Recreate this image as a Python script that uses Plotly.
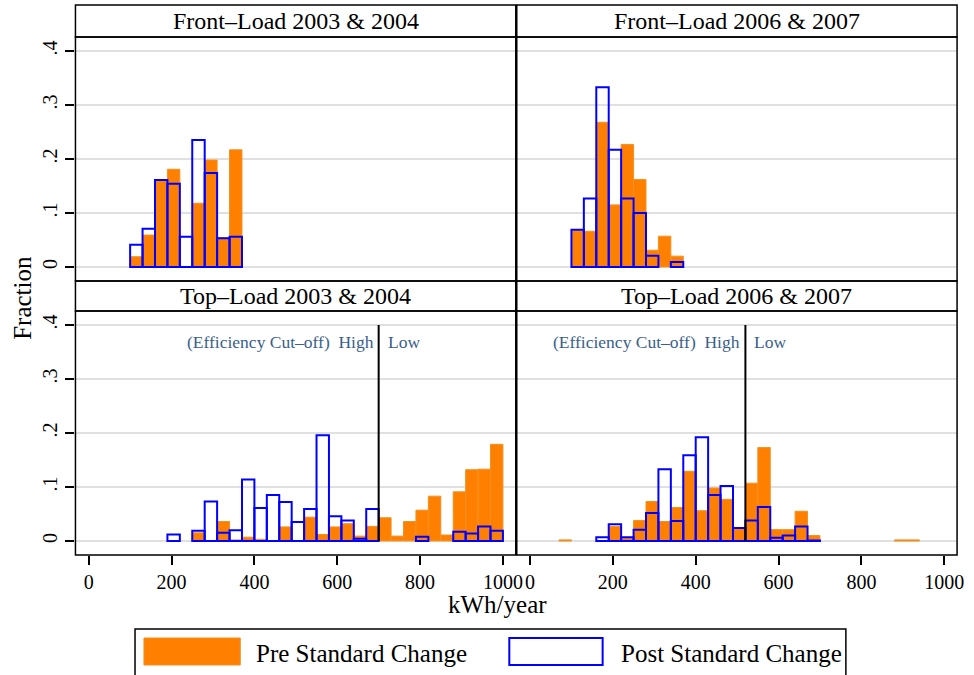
import plotly.graph_objects as go

# ---------------- data ----------------
BIN_W = 30
panel_titles = ["Front\u2013Load 2003 & 2004", "Front\u2013Load 2006 & 2007",
                "Top\u2013Load 2003 & 2004", "Top\u2013Load 2006 & 2007"]

fl0304_left = [100, 130, 160, 190, 220, 250, 280, 310, 340]
fl0304_pre = [0.019, 0.059, 0.160, 0.181, 0.0, 0.118, 0.198, 0.054, 0.217]
fl0304_post = [0.041, 0.071, 0.161, 0.154, 0.056, 0.235, 0.174, 0.053, 0.056]

fl0607_left = [100, 130, 160, 190, 220, 250, 280, 310, 340]
fl0607_pre = [0.067, 0.066, 0.268, 0.115, 0.227, 0.162, 0.031, 0.057, 0.020]
fl0607_post = [0.069, 0.127, 0.333, 0.217, 0.127, 0.100, 0.021, 0.0, 0.009]

tl0304_left = [190, 220, 250, 280, 310, 340, 370, 400, 430, 460, 490, 520, 550, 580,
               610, 640, 670, 700, 730, 760, 790, 820, 850, 880, 910, 940, 970]
tl0304_pre = [0.0, 0.0, 0.015, 0.0, 0.036, 0.002, 0.007, 0.003, 0.0, 0.026, 0.0, 0.044,
              0.012, 0.026, 0.032, 0.009, 0.027, 0.043, 0.009, 0.036, 0.057, 0.083,
              0.011, 0.091, 0.132, 0.133, 0.179]
tl0304_post = [0.012, 0.0, 0.019, 0.073, 0.015, 0.020, 0.114, 0.061, 0.085, 0.072, 0.035,
               0.059, 0.196, 0.046, 0.038, 0.004, 0.059, 0.0, 0.0, 0.0, 0.008, 0.0,
               0.0, 0.017, 0.014, 0.027, 0.019]

tl0607_left = [70, 100, 130, 160, 190, 220, 250, 280, 310, 340, 370, 400, 430, 460, 490,
               520, 550, 580, 610, 640, 670, 700, 730, 760, 790, 820, 850, 880, 910]
tl0607_pre = [0.002, 0.0, 0.0, 0.0, 0.027, 0.005, 0.038, 0.073, 0.036, 0.062, 0.129, 0.056,
              0.098, 0.077, 0.023, 0.107, 0.173, 0.021, 0.021, 0.055, 0.010, 0.0, 0.0,
              0.0, 0.0, 0.0, 0.0, 0.002, 0.002]
tl0607_post = [0.0, 0.0, 0.0, 0.007, 0.031, 0.007, 0.021, 0.052, 0.133, 0.037, 0.159, 0.192,
               0.085, 0.102, 0.024, 0.038, 0.063, 0.006, 0.010, 0.027, 0.001, 0.0, 0.0,
               0.0, 0.0, 0.0, 0.0, 0.0, 0.0]

cutoffs = {"x3": 700, "x4": 520}

x_ticks = [0, 200, 400, 600, 800, 1000]
y_ticks = [0, 0.1, 0.2, 0.3, 0.4]
y_tick_text = ["0", ".1", ".2", ".3", ".4"]

# ---------------- figure ----------------
W, H = 974, 675
FONT = "Liberation Serif, Times New Roman, serif"
ORANGE = "#FF8000"
BLUE = "#0000FF"


def px(x):
    return x / W


def py(y):
    return 1 - y / H


fig = go.Figure()

panels = [
    (fl0304_left, fl0304_pre, fl0304_post, "x", "y"),
    (fl0607_left, fl0607_pre, fl0607_post, "x2", "y2"),
    (tl0304_left, tl0304_pre, tl0304_post, "x3", "y3"),
    (tl0607_left, tl0607_pre, tl0607_post, "x4", "y4"),
]

for left, pre, post, xa, ya in panels:
    xs_pre = [l + BIN_W / 2 for l, v in zip(left, pre) if v > 0]
    vs_pre = [v for v in pre if v > 0]
    xs_post = [l + BIN_W / 2 for l, v in zip(left, post) if v > 0]
    vs_post = [v for v in post if v > 0]
    fig.add_trace(go.Bar(x=xs_pre, y=vs_pre, width=BIN_W, xaxis=xa, yaxis=ya,
                         marker=dict(color=ORANGE, line=dict(color="#F39020", width=1)),
                         showlegend=False, name="Pre Standard Change"))
    fig.add_trace(go.Bar(x=xs_post, y=vs_post, width=BIN_W, xaxis=xa, yaxis=ya,
                         marker=dict(color="rgba(0,0,0,0)", line=dict(color=BLUE, width=2)),
                         showlegend=False, name="Post Standard Change"))

# plot-area pixel geometry
XL = (76, 519.5)
XR = (520.5, 964)
YT = (37, 281)
YB = (311, 555)
XRANGE = [-32, 1031]
YRANGE = [-0.026, 0.426]

common_x = dict(range=XRANGE, showgrid=False, zeroline=False, showline=False)
common_y = dict(range=YRANGE, tickvals=y_ticks, gridcolor="#e0e0e0", gridwidth=1.5,
                zeroline=False, showline=False)

tick_font = dict(family=FONT, size=20, color="black")

fig.update_layout(
    xaxis=dict(domain=[px(XL[0]), px(XL[1])], anchor="y", showticklabels=False, ticks="", **common_x),
    xaxis2=dict(domain=[px(XR[0]), px(XR[1])], anchor="y2", showticklabels=False, ticks="", **common_x),
    xaxis3=dict(domain=[px(XL[0]), px(XL[1])], anchor="y3", tickvals=x_ticks, ticks="outside",
                ticklen=9, tickwidth=1.5, tickcolor="black", tickfont=tick_font, **common_x),
    xaxis4=dict(domain=[px(XR[0]), px(XR[1])], anchor="y4", tickvals=x_ticks, ticks="outside",
                ticklen=9, tickwidth=1.5, tickcolor="black", tickfont=tick_font, **common_x),
    yaxis=dict(domain=[py(YT[1]), py(YT[0])], anchor="x", ticktext=y_tick_text, ticks="outside",
               ticklen=9, tickwidth=1.5, tickcolor="black", tickangle=-90, tickfont=tick_font, **common_y),
    yaxis2=dict(domain=[py(YT[1]), py(YT[0])], anchor="x2", showticklabels=False, ticks="", **common_y),
    yaxis3=dict(domain=[py(YB[1]), py(YB[0])], anchor="x3", ticktext=y_tick_text, ticks="outside",
                ticklen=9, tickwidth=1.5, tickcolor="black", tickangle=-90, tickfont=tick_font, **common_y),
    yaxis4=dict(domain=[py(YB[1]), py(YB[0])], anchor="x4", showticklabels=False, ticks="", **common_y),
    barmode="overlay",
    width=W, height=H,
    margin=dict(l=0, r=0, t=0, b=0),
    paper_bgcolor="white", plot_bgcolor="white",
    font=dict(family=FONT, color="black"),
    showlegend=False,
)

shapes = []
annots = []
LINE = dict(color="black", width=1.5)

# header strips and panel frames
for (x0, x1) in (XL, XR):
    shapes.append(dict(type="rect", xref="paper", yref="paper", x0=px(x0), x1=px(x1),
                       y0=py(37), y1=py(5), line=LINE, fillcolor="white", layer="below"))
    shapes.append(dict(type="rect", xref="paper", yref="paper", x0=px(x0), x1=px(x1),
                       y0=py(311), y1=py(281), line=LINE, fillcolor="white", layer="below"))
    shapes.append(dict(type="rect", xref="paper", yref="paper", x0=px(x0), x1=px(x1),
                       y0=py(281), y1=py(37), line=LINE, layer="above"))
    shapes.append(dict(type="rect", xref="paper", yref="paper", x0=px(x0), x1=px(x1),
                       y0=py(555), y1=py(311), line=LINE, layer="above"))

header_pos = [(XL, 21), (XR, 21), (XL, 296), (XR, 296)]
for title, ((x0, x1), yc) in zip(panel_titles, header_pos):
    annots.append(dict(text=title, xref="paper", yref="paper", x=px((x0 + x1) / 2), y=py(yc),
                       xanchor="center", yanchor="middle", showarrow=False,
                       font=dict(family=FONT, size=24, color="black")))

# cutoff lines and labels
for xa, cx in cutoffs.items():
    ya = "y" + xa[1:]
    shapes.append(dict(type="line", xref=xa, yref=ya, x0=cx, x1=cx, y0=0, y1=0.4,
                       line=dict(color="black", width=2)))
    annots.append(dict(text="(Efficiency Cut\u2013off)  High", xref=xa, yref=ya, x=cx, y=0.368,
                       xanchor="right", yanchor="middle", xshift=-3, showarrow=False,
                       font=dict(family=FONT, size=17.5, color="#3A5F8A")))
    annots.append(dict(text="Low", xref=xa, yref=ya, x=cx, y=0.368,
                       xanchor="left", yanchor="middle", xshift=7, showarrow=False,
                       font=dict(family=FONT, size=17.5, color="#3A5F8A")))

# axis titles
annots.append(dict(text="Fraction", xref="paper", yref="paper", x=px(22), y=py(298),
                   xanchor="center", yanchor="middle", textangle=-90, showarrow=False,
                   font=dict(family=FONT, size=25, color="black")))
annots.append(dict(text="kWh/year", xref="paper", yref="paper", x=px(501), y=py(604),
                   xanchor="center", yanchor="middle", showarrow=False,
                   font=dict(family=FONT, size=25, color="black")))

# legend
shapes.append(dict(type="rect", xref="paper", yref="paper", x0=px(136), x1=px(852),
                   y0=py(690), y1=py(629), line=LINE, fillcolor="white"))
shapes.append(dict(type="rect", xref="paper", yref="paper", x0=px(145), x1=px(242),
                   y0=py(665), y1=py(638), line=dict(color="#F39020", width=1), fillcolor=ORANGE))
shapes.append(dict(type="rect", xref="paper", yref="paper", x0=px(513), x1=px(607),
                   y0=py(665), y1=py(638), line=dict(color=BLUE, width=2), fillcolor="white"))
annots.append(dict(text="Pre Standard Change", xref="paper", yref="paper", x=px(256), y=py(653),
                   xanchor="left", yanchor="middle", showarrow=False,
                   font=dict(family=FONT, size=25, color="black")))
annots.append(dict(text="Post Standard Change", xref="paper", yref="paper", x=px(623), y=py(653),
                   xanchor="left", yanchor="middle", showarrow=False,
                   font=dict(family=FONT, size=25, color="black")))

fig.update_layout(shapes=shapes, annotations=annots)
fig.write_html("out.html", config={"displayModeBar": False},
               post_script="document.body.style.margin='0px';")
